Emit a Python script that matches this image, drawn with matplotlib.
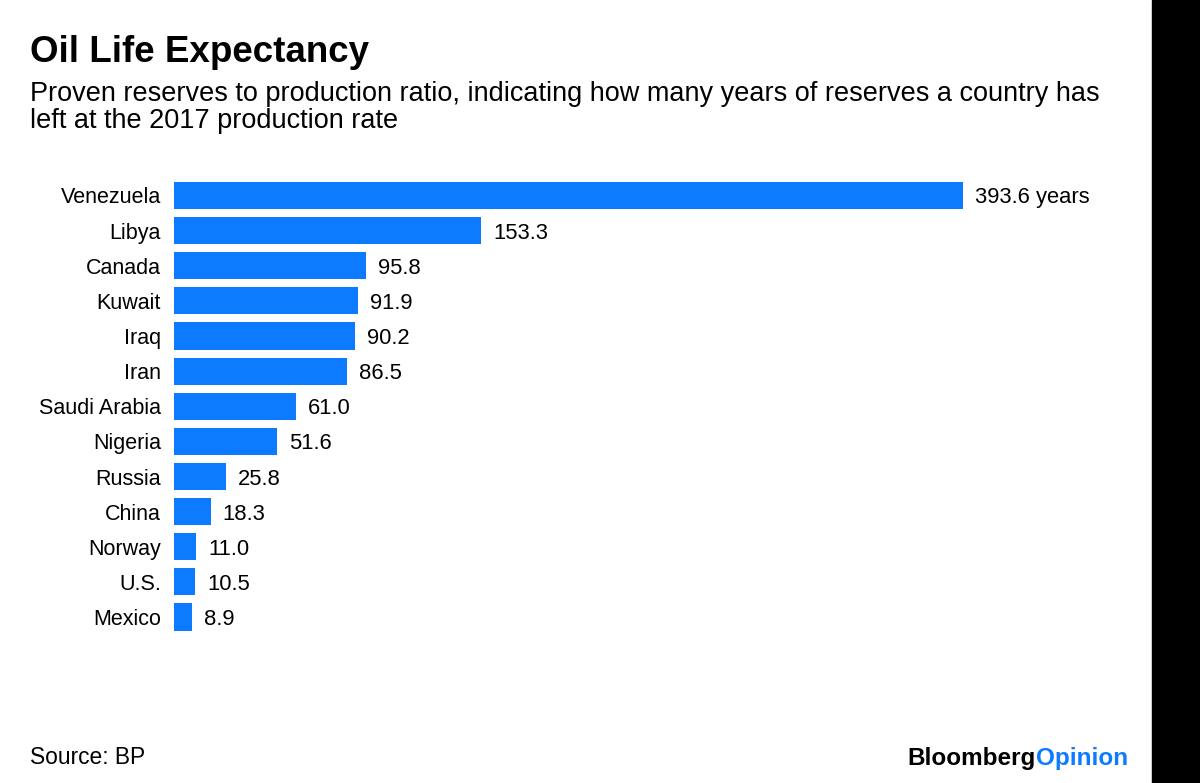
import matplotlib
matplotlib.use("Agg")
import matplotlib.pyplot as plt

plt.rcParams['font.family'] = ['Liberation Sans', 'DejaVu Sans']

countries = ['Venezuela', 'Libya', 'Canada', 'Kuwait', 'Iraq', 'Iran', 'Saudi Arabia',
             'Nigeria', 'Russia', 'China', 'Norway', 'U.S.', 'Mexico']
years = [393.6, 153.3, 95.8, 91.9, 90.2, 86.5, 61.0, 51.6, 25.8, 18.3, 11.0, 10.5, 8.9]

blue = '#0d7bff'

fig = plt.figure(figsize=(12, 7.83), dpi=100)
W, H = 1200, 783

# black strip on the right edge
fig.patches.append(plt.Rectangle((1152 / W, 0), 48 / W, 1, transform=fig.transFigure,
                                 color='black', zorder=0))

ax = fig.add_axes([174 / W, 1 - 638.1 / H, (1152 - 174) / W, (638.1 - 174.4) / H])
pos = list(range(len(countries)))
ax.barh(pos, years, height=0.77, color=blue)
ax.set_xlim(0, 978 / 2.005)
ax.set_ylim(12.6, -0.6)
ax.set_yticks(pos)
ax.set_yticklabels(countries, fontsize=15.5)
for lab in ax.get_yticklabels():
    lab.set_verticalalignment('center_baseline')
ax.tick_params(axis='y', length=0, pad=9.3)
ax.set_xticks([])
for s in ax.spines.values():
    s.set_visible(False)
ax.patch.set_alpha(0)

for i, v in enumerate(years):
    txt = f'{v:.1f} years' if i == 0 else f'{v:.1f}'
    ax.annotate(txt, (v, i), xytext=(12, 0), textcoords='offset pixels',
                va='center_baseline', ha='left', fontsize=15.8)

fig.text(30 / W, 1 - 62 / H, 'Oil Life Expectancy', fontsize=26.5, fontweight='bold',
         va='baseline')
fig.text(30 / W, 1 - 101 / H,
         'Proven reserves to production ratio, indicating how many years of reserves a country has',
         fontsize=19.5, va='baseline')
fig.text(30 / W, 1 - 128 / H, 'left at the 2017 production rate', fontsize=19.5, va='baseline')
fig.text(30 / W, 1 - 764 / H, 'Source: BP', fontsize=16.4, va='baseline')

# logo
r = fig.canvas.get_renderer()
t2 = fig.text(1128 / W, 1 - 765 / H, 'Opinion', fontsize=17.5, fontweight='bold',
              color=blue, ha='right', va='baseline')
bb = t2.get_window_extent(renderer=r)
fig.text(bb.x0 / W, 1 - 765 / H, 'Bloomberg', fontsize=17.5, fontweight='bold',
         color='black', ha='right', va='baseline')

fig.savefig('out.png', dpi=100)
